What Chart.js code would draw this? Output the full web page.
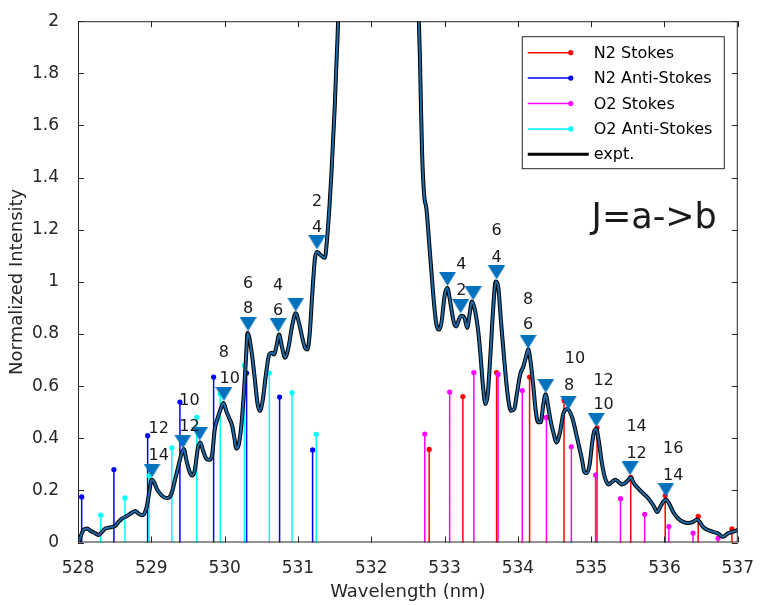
<!DOCTYPE html>
<html>
<head>
<meta charset="utf-8">
<script src="https://cdn.jsdelivr.net/npm/chart.js@4.4.1/dist/chart.umd.min.js"></script>
<style>
  body { margin: 0; background: #fff; }
  #wrap { width: 762px; height: 605px; }
</style>
</head>
<body>
<div id="wrap"><canvas id="myChart" width="762" height="605"></canvas></div>
<script>
// axis ticks
const xTicks = [528, 529, 530, 531, 532, 533, 534, 535, 536, 537];
const yTicks = [0, 0.2, 0.4, 0.6, 0.8, 1, 1.2, 1.4, 1.6, 1.8, 2];
const yTickLabels = ['0', '0.2', '0.4', '0.6', '0.8', '1', '1.2', '1.4', '1.6', '1.8', '2'];

// stick spectra (wavelength nm, normalized intensity)
const n2StokesX = [532.79, 533.25, 533.71, 534.16, 534.63, 535.08, 535.54, 536.01, 536.46, 536.92];
const n2StokesY = [0.357, 0.56, 0.652, 0.635, 0.545, 0.44, 0.25, 0.18, 0.10, 0.052];
const n2AntiX = [528.05, 528.49, 528.95, 529.39, 529.85, 530.30, 530.75, 531.20];
const n2AntiY = [0.175, 0.28, 0.41, 0.539, 0.635, 0.65, 0.558, 0.355];
const o2StokesX = [532.73, 533.07, 533.40, 533.73, 534.06, 534.39, 534.73, 535.06, 535.40, 535.73, 536.06, 536.39, 536.73];
const o2StokesY = [0.416, 0.577, 0.652, 0.645, 0.583, 0.48, 0.367, 0.259, 0.168, 0.108, 0.061, 0.036, 0.016];
const o2AntiX = [527.99, 528.31, 528.64, 528.97, 529.28, 529.62, 529.94, 530.27, 530.61, 530.92, 531.25];
const o2AntiY = [0.063, 0.105, 0.171, 0.257, 0.363, 0.48, 0.57, 0.68, 0.65, 0.575, 0.415];

// experimental spectrum
const exptX = [528.011, 528.079, 528.125, 528.169, 528.237, 528.282, 528.328, 528.373, 528.440, 528.508,
  528.553, 528.599, 528.644, 528.688, 528.734, 528.779, 528.824, 528.870, 528.901, 528.938,
  528.969, 529.005, 529.037, 529.073, 529.118, 529.186, 529.230, 529.276, 529.321, 529.366,
  529.412, 529.443, 529.480, 529.524, 529.561, 529.592, 529.637, 529.669, 529.705, 529.751,
  529.795, 529.832, 529.863, 529.908, 529.954, 529.985, 530.022, 530.066, 530.103, 530.134,
  530.160, 530.192, 530.225, 530.262, 530.290, 530.314, 530.360, 530.405, 530.450, 530.482,
  530.518, 530.564, 530.608, 530.645, 530.676, 530.707, 530.744, 530.780, 530.825, 530.870,
  530.924, 530.970, 531.015, 531.060, 531.096, 531.127, 531.160, 531.195, 531.232, 531.263,
  531.309, 531.367, 531.398, 531.431, 531.458, 531.480, 531.503, 531.520, 531.539, 531.547,
  531.580, 531.750, 532.100, 532.450, 532.620,
  532.650, 532.664, 532.678, 532.695, 532.722, 532.753, 532.786, 532.821, 532.858, 532.889,
  532.921, 532.957, 533.003, 533.038, 533.084, 533.129, 533.160, 533.196, 533.228, 533.274,
  533.309, 533.341, 533.373, 533.409, 533.454, 533.490, 533.522, 533.558, 533.589, 533.626,
  533.661, 533.698, 533.734, 533.770, 533.816, 533.860, 533.905, 533.951, 533.986, 534.032,
  534.077, 534.114, 534.141, 534.176, 534.213, 534.244, 534.276, 534.312, 534.348, 534.379,
  534.412, 534.447, 534.484, 534.528, 534.575, 534.619, 534.673, 534.741, 534.786, 534.832,
  534.877, 534.908, 534.944, 534.981, 535.012, 535.043, 535.070, 535.103, 535.148, 535.192,
  535.238, 535.283, 535.328, 535.374, 535.419, 535.463, 535.509, 535.541, 535.585, 535.645,
  535.713, 535.780, 535.848, 535.902, 535.947, 535.984, 536.019, 536.065, 536.119, 536.187,
  536.255, 536.322, 536.390, 536.444, 536.480, 536.526, 536.593, 536.661, 536.729, 536.797,
  536.864, 536.932, 537.000];
const exptY = [0.003, 0.050, 0.054, 0.045, 0.035, 0.029, 0.041, 0.054, 0.058, 0.064,
  0.079, 0.092, 0.098, 0.105, 0.114, 0.121, 0.111, 0.105, 0.109, 0.137,
  0.188, 0.241, 0.232, 0.207, 0.188, 0.172, 0.171, 0.188, 0.238, 0.289,
  0.340, 0.359, 0.315, 0.270, 0.257, 0.276, 0.365, 0.384, 0.353, 0.321,
  0.317, 0.340, 0.429, 0.480, 0.518, 0.535, 0.505, 0.475, 0.448, 0.400,
  0.360, 0.375, 0.440, 0.570, 0.700, 0.804, 0.747, 0.645, 0.531, 0.505,
  0.543, 0.645, 0.721, 0.728, 0.721, 0.753, 0.798, 0.753, 0.709, 0.747,
  0.836, 0.880, 0.842, 0.785, 0.747, 0.740, 0.798, 0.950, 1.090, 1.115,
  1.103, 1.092, 1.166, 1.293, 1.420, 1.547, 1.675, 1.802, 1.929, 1.992,
  2.200, 3.500, 8.000, 3.500, 2.200,
  1.992, 1.865, 1.675, 1.484, 1.332, 1.280, 1.166, 1.039, 0.912, 0.836,
  0.817, 0.842, 0.950, 0.976, 0.912, 0.842, 0.829, 0.855, 0.870, 0.861,
  0.823, 0.874, 0.925, 0.899, 0.823, 0.721, 0.607, 0.531, 0.569, 0.721,
  0.887, 1.001, 0.976, 0.848, 0.696, 0.569, 0.505, 0.512, 0.569, 0.645,
  0.677, 0.715, 0.741, 0.689, 0.594, 0.505, 0.461, 0.461, 0.531, 0.569,
  0.524, 0.467, 0.423, 0.384, 0.423, 0.493, 0.512, 0.480, 0.429, 0.372,
  0.315, 0.270, 0.266, 0.302, 0.378, 0.429, 0.435, 0.391, 0.302, 0.245,
  0.223, 0.232, 0.241, 0.232, 0.223, 0.228, 0.241, 0.249, 0.226, 0.207,
  0.188, 0.169, 0.143, 0.117, 0.139, 0.156, 0.165, 0.149, 0.117, 0.092,
  0.079, 0.075, 0.079, 0.088, 0.079, 0.060, 0.048, 0.041, 0.035, 0.022,
  0.035, 0.041, 0.048];

// identified peaks (triangle markers)
const peakX = [529.01, 529.43, 529.66, 529.99, 530.32, 530.73, 530.97, 531.26, 533.04,
  533.22, 533.39, 533.71, 534.14, 534.38, 534.69, 535.07, 535.53, 536.02];
const peakY = [0.276, 0.387, 0.418, 0.570, 0.838, 0.834, 0.913, 1.151, 1.011,
  0.906, 0.956, 1.036, 0.770, 0.601, 0.537, 0.470, 0.285, 0.203];

// J labels (upper line, lower line)
const jTopText = ['12', '10', '8', '6', '4', '2', '4', '6', '8', '10', '12', '14', '16'];
const jTopX = [529.10, 529.52, 529.99, 530.32, 530.73, 531.26, 533.23, 533.71, 534.14, 534.78, 535.17, 535.62, 536.12];
const jTopY = [0.437, 0.544, 0.726, 0.994, 0.986, 1.306, 1.065, 1.194, 0.931, 0.704, 0.622, 0.442, 0.359];
const jBotText = ['14', '12', '10', '8', '6', '4', '2', '4', '6', '8', '10', '12', '14'];
const jBotX = [529.10, 529.52, 530.07, 530.32, 530.73, 531.26, 533.23, 533.71, 534.14, 534.70, 535.17, 535.62, 536.12];
const jBotY = [0.334, 0.442, 0.627, 0.898, 0.890, 1.208, 0.966, 1.092, 0.836, 0.601, 0.528, 0.340, 0.257];
const noteText = 'J=a->b';
const noteX = 535.86;
const noteY = 1.241;

function stems(xs, ys) {
  const out = [];
  xs.forEach((x, i) => {
    out.push({x: x, y: 0});
    out.push({x: x, y: ys[i]});
    out.push({x: x, y: null});
  });
  return out;
}

function stemSet(label, xs, ys, color, order) {
  return {
    type: 'line',
    label: label,
    data: stems(xs, ys),
    borderColor: color,
    backgroundColor: color,
    borderWidth: 1.5,
    pointRadius: c => (c.dataIndex % 3 === 1 ? 2.6 : 0),
    pointBorderWidth: 0,
    spanGaps: false,
    tension: 0,
    clip: 4,
    order: order
  };
}

// down triangle marker
const tri = document.createElement('canvas');
tri.width = 17; tri.height = 14;
const tctx = tri.getContext('2d');
tctx.fillStyle = '#0072BD';
tctx.beginPath();
tctx.moveTo(0, 0); tctx.lineTo(17, 0); tctx.lineTo(8.5, 14); tctx.closePath();
tctx.fill();

const expt = exptX.map((x, i) => ({x: x, y: exptY[i]}));

const legendItems = [
  {text: 'N2 Stokes', color: '#ff0000', dot: true},
  {text: 'N2 Anti-Stokes', color: '#0000ff', dot: true},
  {text: 'O2 Stokes', color: '#ff00ff', dot: true},
  {text: 'O2 Anti-Stokes', color: '#00ffff', dot: true},
  {text: 'expt.', color: '#000000', dot: false}
];

const decor = {
  id: 'decor',
  afterDatasetsDraw(chart) {
    const ctx = chart.ctx;
    const a = chart.chartArea;
    const xs = chart.scales.x, ys = chart.scales.y;
    ctx.save();
    // frame with inward ticks
    ctx.strokeStyle = '#262626';
    ctx.lineWidth = 1;
    ctx.strokeRect(a.left + 0.5, a.top + 0.5, a.right - a.left - 1, a.bottom - a.top - 1);
    ctx.beginPath();
    xTicks.forEach(v => {
      const px = Math.round(xs.getPixelForValue(v)) + 0.5;
      ctx.moveTo(px, a.bottom); ctx.lineTo(px, a.bottom - 6);
      ctx.moveTo(px, a.top); ctx.lineTo(px, a.top + 6);
    });
    yTicks.forEach(v => {
      const py = Math.round(ys.getPixelForValue(v)) + 0.5;
      ctx.moveTo(a.left, py); ctx.lineTo(a.left + 6, py);
      ctx.moveTo(a.right, py); ctx.lineTo(a.right - 6, py);
    });
    ctx.stroke();

    // J labels
    ctx.fillStyle = '#1a1a1a';
    ctx.font = '16px "DejaVu Sans"';
    ctx.textAlign = 'center';
    ctx.textBaseline = 'middle';
    jTopText.forEach((t, i) => ctx.fillText(t, xs.getPixelForValue(jTopX[i]), ys.getPixelForValue(jTopY[i])));
    jBotText.forEach((t, i) => ctx.fillText(t, xs.getPixelForValue(jBotX[i]), ys.getPixelForValue(jBotY[i])));
    ctx.font = '35px "DejaVu Sans"';
    ctx.fillText(noteText, xs.getPixelForValue(noteX), ys.getPixelForValue(noteY));

    // legend box
    const bx = a.right - 216, by = a.top + 15, bw = 202, bh = 132;
    ctx.fillStyle = '#ffffff';
    ctx.fillRect(bx, by, bw, bh);
    ctx.strokeStyle = '#262626';
    ctx.strokeRect(bx + 0.5, by + 0.5, bw, bh);
    ctx.font = '16px "DejaVu Sans"';
    ctx.textAlign = 'left';
    legendItems.forEach((it, i) => {
      const ry = by + 16.5 + i * 25.4;
      ctx.strokeStyle = it.color;
      ctx.lineWidth = it.dot ? 1.5 : 3;
      ctx.beginPath();
      ctx.moveTo(bx + 6, ry);
      ctx.lineTo(bx + (it.dot ? 49 : 67), ry);
      ctx.stroke();
      if (it.dot) {
        ctx.fillStyle = it.color;
        ctx.beginPath();
        ctx.arc(bx + 49, ry, 2.6, 0, Math.PI * 2);
        ctx.fill();
      }
      ctx.fillStyle = '#000000';
      ctx.fillText(it.text, bx + 72, ry + 1);
    });
    ctx.restore();
  }
};

window.onload = function () {
  Chart.defaults.font.family = '"DejaVu Sans"';
  Chart.defaults.color = '#262626';
  const ctx = document.getElementById('myChart');
  new Chart(ctx, {
    type: 'line',
    data: {
      datasets: [
        stemSet('N2 Stokes', n2StokesX, n2StokesY, '#ff0000', 6),
        stemSet('N2 Anti-Stokes', n2AntiX, n2AntiY, '#0000ff', 5),
        stemSet('O2 Stokes', o2StokesX, o2StokesY, '#ff00ff', 4),
        stemSet('O2 Anti-Stokes', o2AntiX, o2AntiY, '#00ffff', 3),
        {
          label: 'expt.',
          data: expt,
          borderColor: '#000000',
          borderWidth: 4,
          pointRadius: 0,
          cubicInterpolationMode: 'monotone',
          clip: 0,
          order: 2
        },
        {
          label: 'expt-inner',
          data: expt,
          borderColor: '#1f6aa8',
          borderWidth: 2,
          pointRadius: 0,
          cubicInterpolationMode: 'monotone',
          clip: 0,
          order: 1
        },
        {
          label: 'peaks',
          data: peakX.map((x, i) => ({x: x, y: peakY[i]})),
          showLine: false,
          pointStyle: tri,
          pointRadius: 8,
          order: 0
        }
      ]
    },
    options: {
      responsive: false,
      animation: false,
      devicePixelRatio: 1,
      layout: {padding: {top: 18, right: 21, bottom: 0, left: 0}},
      plugins: {legend: {display: false}, tooltip: {enabled: false}},
      scales: {
        x: {
          type: 'linear',
          min: 528,
          max: 537,
          afterBuildTicks: s => { s.ticks = xTicks.map(v => ({value: v})); },
          afterFit: s => { s.height = 62.5; },
          grid: {display: false},
          border: {display: false},
          ticks: {font: {size: 17}, padding: 8, maxRotation: 0, color: '#262626'},
          title: {display: true, text: 'Wavelength (nm)', font: {size: 18}, padding: {top: 0, bottom: 2}, color: '#262626'}
        },
        y: {
          type: 'linear',
          min: 0,
          max: 2,
          afterBuildTicks: s => { s.ticks = yTicks.map(v => ({value: v})); },
          afterFit: s => { s.width = 78; },
          grid: {display: false},
          border: {display: false},
          ticks: {font: {size: 17}, padding: 11, color: '#262626', callback: (v, i) => yTickLabels[i]},
          title: {display: true, text: 'Normalized Intensity', font: {size: 18}, padding: {top: 7, bottom: 0}, color: '#262626'}
        }
      }
    },
    plugins: [decor]
  });
};
</script>
</body>
</html>
